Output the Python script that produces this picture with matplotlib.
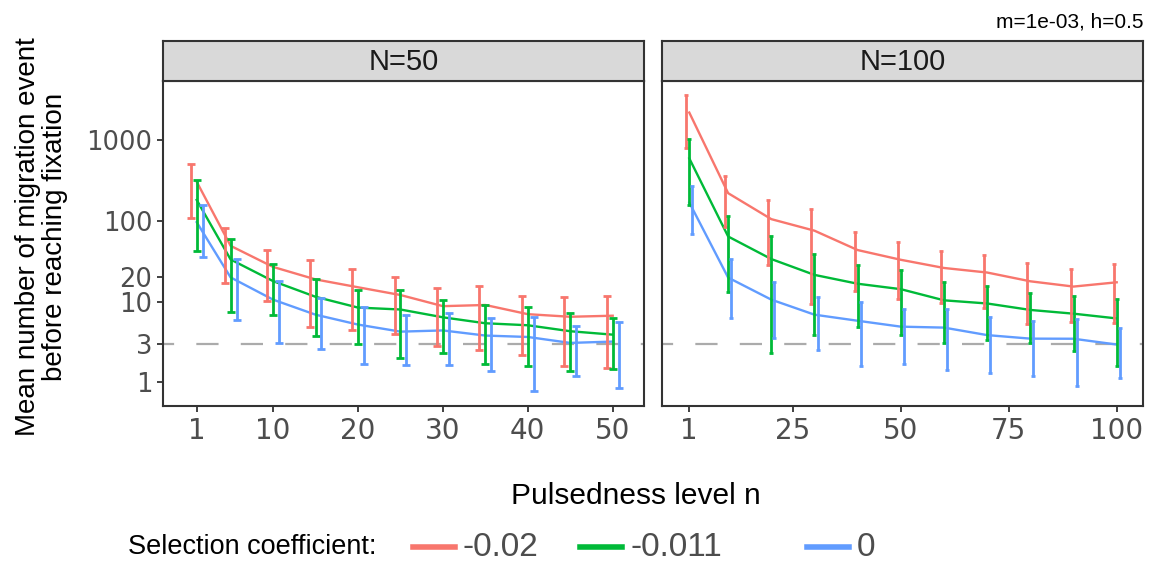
import matplotlib.pyplot as plt
from matplotlib.lines import Line2D

W, H = 1156, 564

# pulsedness levels in each panel
n_50 = [1, 5, 10, 15, 20, 25, 30, 35, 40, 45, 50]
n_100 = [1, 10, 20, 30, 40, 50, 60, 70, 80, 90, 100]

coef_labels = ["-0.02", "-0.011", "0"]
coef_colors = ["#F8766D", "#00BA38", "#619CFF"]

# N=50 : mean and sd for each selection coefficient
mean_50_a = [308, 49.3, 27, 18.9, 15.1, 12.1, 8.8, 9.1, 7.0, 6.5, 6.7]
sd_50_a = [200, 32, 16.7, 14, 10.6, 8.1, 6.0, 6.6, 4.85, 4.9, 5.2]
mean_50_b = [183, 33.4, 18, 11.5, 8.45, 8.0, 6.4, 5.4, 5.1, 4.3, 3.9]
sd_50_b = [140, 26, 11.1, 7.8, 5.5, 6.0, 4.1, 3.7, 3.5, 2.9, 2.45]
mean_50_c = [97, 20, 10.6, 6.9, 5.2, 4.25, 4.4, 3.8, 3.65, 3.08, 3.2]
sd_50_c = [61, 14.1, 7.5, 4.3, 3.5, 2.6, 2.75, 2.4, 2.87, 1.9, 2.35]

# N=100
mean_100_a = [2220, 222, 105.7, 76, 43.7, 33.1, 26.2, 23, 17.9, 15.4, 17.4]
sd_100_a = [1408, 137, 77, 66.6, 30.2, 22.4, 16.7, 14.6, 12.6, 9.8, 12]
mean_100_b = [600, 64.4, 33.8, 21.5, 16.7, 14.3, 10.4, 9.5, 7.9, 7.1, 6.2]
sd_100_b = [440, 51.3, 31.5, 17.6, 11.8, 10.4, 7.3, 6.2, 4.8, 4.65, 4.6]
mean_100_c = [170, 19.9, 10.6, 6.9, 5.8, 4.9, 4.77, 3.85, 3.48, 3.47, 2.94]
sd_100_c = [100, 13.7, 7.1, 4.4, 4.2, 3.2, 3.35, 2.55, 2.28, 2.57, 1.82]

y_ticks = [1, 3, 10, 20, 100, 1000]
ref_line = 3
dodge = [-0.7, 0, 0.7]


def fx(px):
    return px / W


def fy(py):
    return 1 - py / H


def draw_panel(box, n, means, sds, xlim, xticks, capsize, title):
    left, right = box
    ax = fig.add_axes([fx(left), fy(406), fx(right - left), (406 - 81) / H])
    ax.set_yscale("log")
    ax.set_ylim(0.508, 5470)
    ax.set_xlim(*xlim)
    ax.axhline(ref_line, color="#ababab", lw=1.6, linestyle=(25, (10, 10)), zorder=1)
    for m, s, c in zip(means, sds, coef_colors):
        ax.plot(n, m, color=c, lw=1.7, zorder=2)
    for m, s, c, d in zip(means, sds, coef_colors, dodge):
        ax.errorbar([v + d for v in n], m, yerr=s, fmt="none", ecolor=c,
                    elinewidth=2.0, capsize=capsize, capthick=2.0, zorder=3)
    ax.set_xticks(xticks)
    ax.set_xticklabels([str(t) for t in xticks])
    ax.set_yticks(y_ticks)
    ax.minorticks_off()
    if left < 300:
        ax.set_yticklabels([str(t) for t in y_ticks])
    else:
        ax.tick_params(axis="y", left=False, labelleft=False)
    ax.tick_params(colors="#333333", labelcolor="#4d4d4d", labelsize=20,
                   length=4, width=1.3, pad=4)
    ax.tick_params(axis="y", labelsize=18.5)
    for lab in ax.get_xticklabels() + ax.get_yticklabels():
        lab.set_family("DejaVu Sans")
    for sp in ax.spines.values():
        sp.set_color("#333333")
        sp.set_linewidth(1.5)

    strip = fig.add_axes([fx(left), fy(80.7), fx(right - left), (80.7 - 41) / H])
    strip.set_facecolor("#d9d9d9")
    strip.set_xticks([])
    strip.set_yticks([])
    for sp in strip.spines.values():
        sp.set_color("#333333")
        sp.set_linewidth(1.5)
    strip.text(0.5, 0.47, title, ha="center", va="center", fontsize=21,
               family="Liberation Sans", color="#1a1a1a")
    return ax


fig = plt.figure(figsize=(W / 100, H / 100), dpi=100)

draw_panel((163.3, 644.3), n_50,
           [mean_50_a, mean_50_b, mean_50_c], [sd_50_a, sd_50_b, sd_50_c],
           (-2.93, 53.72), [1, 10, 20, 30, 40, 50], 3.0, "N=50")
draw_panel((662, 1143.3), n_100,
           [mean_100_a, mean_100_b, mean_100_c], [sd_100_a, sd_100_b, sd_100_c],
           (-5.32, 106.16), [1, 25, 50, 75, 100], 1.7, "N=100")

fig.text(fx(1143), fy(22), "m=1e-03, h=0.5", ha="right", va="center",
         fontsize=15, family="Liberation Sans", color="black")
fig.text(fx(42), fy(237), "Mean number of migration event\nbefore reaching fixation",
         rotation=90, ha="center", va="center", fontsize=20,
         family="Liberation Sans", linespacing=1.05)
fig.text(fx(636), fy(496), "Pulsedness level n", ha="center", va="center",
         fontsize=21.5, family="Liberation Sans")

# legend
fig.text(fx(128), fy(547), "Selection coefficient:", ha="left", va="center",
         fontsize=19.5, family="Liberation Sans")
key_x = [413, 580, 807]
for kx, lab, c in zip(key_x, coef_labels, coef_colors):
    fig.add_artist(Line2D([fx(kx), fx(kx + 42)], [fy(547), fy(547)], color=c,
                          lw=4, transform=fig.transFigure))
    fig.text(fx(kx + 50), fy(548), lab, ha="left", va="center", fontsize=24,
             family="Liberation Sans", color="#4d4d4d")

fig.savefig("out.png", dpi=100)
